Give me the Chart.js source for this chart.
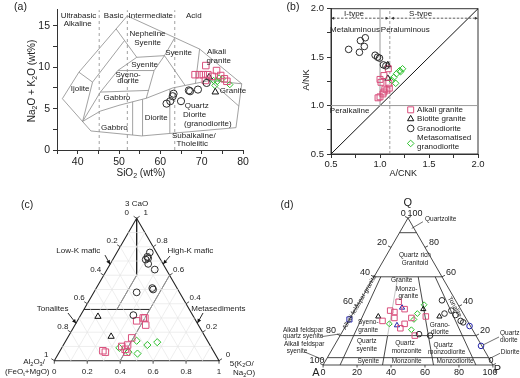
<!DOCTYPE html>
<html>
<head>
<meta charset="utf-8">
<script src="https://cdn.jsdelivr.net/npm/chart.js@4.4.1/dist/chart.umd.min.js"></script>
<style>
  html, body { margin: 0; padding: 0; background: #fff; }
  #wrap { position: relative; width: 520px; height: 378px; overflow: hidden; }
  canvas { position: absolute; }
</style>
</head>
<body>
<div id="wrap">
  <canvas id="chart-tas" width="260" height="190" style="left:0;top:0"></canvas>
  <canvas id="chart-acnk" width="260" height="190" style="left:260px;top:0"></canvas>
  <canvas id="chart-laurent" width="260" height="188" style="left:0;top:190px"></canvas>
  <canvas id="chart-qap" width="260" height="188" style="left:260px;top:190px"></canvas>
</div>
<script>
const FONT = '"Liberation Sans", Arial, sans-serif';
const H = Math.sqrt(3) / 2;

// ---------- (a) TAS: SiO2 vs Na2O+K2O ----------
const tasGranodiorite = [[61.5,5.6],[62.4,5.9],[63.0,6.5],[63.2,6.8],[65.0,5.9],[66.9,7.2],[67.2,7.1],[69.1,7.3],[71.2,8.1]];
const tasAlkaliGranite = [[68.4,9.1],[69.4,9.1],[70.4,9.1],[71.5,9.1],[71.0,10.2],[72.6,8.9],[70.9,8.4],[73.6,9.6],[74.6,9.0],[75.5,8.6],[76.1,8.3]];
const tasBiotiteGranite = [[71.8,8.8],[73.3,7.0]];
const tasMetaGranodiorite = [[72.9,8.4],[73.2,7.8],[73.8,8.3],[74.2,8.7],[75.0,8.6],[76.8,7.9]];

const tasOutline = [[36.3,6.2],[40.3,9.4],[52,16.2],[69.5,12.2],[79.7,8.0],[78.3,2.7],[55.5,1.7],[43.2,2.3],[36.3,6.2]];
const tasFieldLines = [
  [[40.3,9.4],[43.6,8.2],[41.2,3.45]],
  [[43.6,8.2],[51.28,13.19]],
  [[41.2,3.45],[45.5,7.0],[49.7,9.6],[54.3,11.2]],
  [[49.3,14.63],[54.3,11.2],[61,11.4],[63.5,13.57]],
  [[49.7,9.6],[58.5,9.6]],
  [[61,11.4],[58.5,9.6],[56.6,6.25]],
  [[45.5,7.0],[57.15,7.2]],
  [[61,11.4],[66,7.8]],
  [[69.5,12.2],[68.5,8.05]],
  [[41.2,3.45],[45.5,4.7],[50,5.4],[56.6,6.25],[63,7.5],[72,8.4],[79.7,8.0]],
  [[53.3,1.81],[53.3,5.82]],
  [[55.7,1.71],[55.7,6.13]],
  [[62.3,2.0],[62.3,7.36]],
  [[79.0,5.3],[72,8.4]]
];
const tasSilicaLimits = [45.2, 52, 63.5];
const tasLabels = [
  ['Ultrabasic',40.2,16.2],['Alkaline',40.0,15.2],['Basic',48.7,16.2],['Intermediate',57.7,16.2],['Acid',68.1,16.2],
  ['Ijolite',40.6,7.4],['Nepheline',56.9,14.0],['Syenite',56.9,13.0],['Syenite',56.2,10.3],
  ['Syeno-',52.2,9.1],['diorite',52.2,8.4],['Gabbro',49.5,6.3],['Gabbro',48.9,2.7],
  ['Syenite',64.4,11.8],['Alkali',73.6,11.9],['granite',74.1,10.8],['Granite',74.4,7.1,'left'],
  ['Diorite',59.0,3.9],['Quartz',68.8,5.3],['Diorite',68.3,4.2],['(granodiorite)',71.5,3.2],
  ['Subalkaline/',68.1,1.7],['Tholeiitic',67.7,0.8]
];

// ---------- (b) A/CNK vs A/NK ----------
const acnkAlkaliGranite = [[1.085,1.38],[1.04,1.31],[1.0,1.27],[1.01,1.24],[1.09,1.23],[1.05,1.17],[1.07,1.16],[1.095,1.18],[1.04,1.14],[1.0,1.09],[0.98,1.08],[1.03,1.12]];
const acnkBiotiteGranite = [[1.08,1.42],[1.08,1.28]];
const acnkGranodiorite = [[0.68,1.58],[0.79,1.55],[0.80,1.67],[0.84,1.61],[0.85,1.70],[0.95,1.52],[0.975,1.50],[0.995,1.49],[1.035,1.42],[1.06,1.41]];
const acnkMetaGranodiorite = [[1.12,1.26],[1.14,1.29],[1.16,1.23],[1.17,1.33],[1.2,1.36],[1.23,1.38],[1.21,1.35]];
const acnkLabels = [['I-type',0.735,1.952],['S-type',1.415,1.952],['Metaluminous',0.745,1.78],['Peraluminous',1.258,1.78],['Peralkaline',0.69,0.946]];
const legendNames = ['Alkali granite', 'Biotite granite', 'Granodiorite', 'Metasomatised|granodiorite'];

// ---------- (c) Al2O3/(FeOt+MgO) - 3CaO - 5(K2O/Na2O), [al, k, ca] ----------
const terGranodiorite = [[0.04,0.20,0.76],[0.07,0.20,0.73],[0.09,0.20,0.71],[0.07,0.21,0.72],[0.09,0.23,0.68],[0.07,0.29,0.64],[0.15,0.34,0.51],[0.15,0.35,0.50],[0.26,0.26,0.48],[0.36,0.32,0.32]];
const terBiotiteGranite = [[0.58,0.11,0.31],[0.57,0.26,0.17]];
const terAlkaliGranite = [[0.31,0.39,0.30],[0.36,0.36,0.28],[0.32,0.43,0.25],[0.30,0.40,0.30],[0.46,0.39,0.16],[0.50,0.39,0.11],[0.53,0.39,0.08],[0.53,0.41,0.06],[0.54,0.36,0.10],[0.67,0.26,0.07],[0.66,0.28,0.06]];
const terMetaGranodiorite = [[0.43,0.43,0.14],[0.38,0.51,0.11],[0.31,0.56,0.13],[0.47,0.48,0.05],[0.56,0.35,0.09],[0.52,0.42,0.06]];
const terOutline = [[1,0,0],[0,1,0],[0,0,1],[1,0,0]];
const terFieldLines = [
  [[0,0,1],[0.2,0.2,0.6],[0.44,0.2,0.36]],
  [[0.64,0,0.36],[0.24,0.4,0.36]],
  [[0.6,0.4,0],[0,0.4,0.6]]
];
const terTicks = [0, 0.2, 0.4, 0.6, 0.8, 1];
const terLabels = [['3 CaO',0.5,0.956],['Low-K mafic',0.146,0.666],['High-K mafic',0.826,0.666],['Tonalites',-0.01,0.318],['Metasediments',0.996,0.318],
  ['Al_2O_3/',-0.123,-0.006],['(FeO_t+MgO)',-0.164,-0.067],['5(K_2O/',1.138,-0.016],['Na_2O)',1.152,-0.073]];
const terArrows = [[0.308,0.642,0.338,0.586],[0.702,0.636,0.661,0.588],[0.083,0.29,0.132,0.227],[0.903,0.29,0.869,0.229]];

// ---------- (d) QAP, [Q, A, P] % ----------
const qapAlkaliGranite = [[43,34,23],[37,42,21],[36,40,24],[32,42,26],[30,50,20],[38,33,29],[32,32,36],[28,38,34],[25,42,33],[33,23,44],[20,36,44]];
const qapMetaGranodiorite = [[41,20,39],[35,27,38],[31,31,38],[28,47,25],[24,36,40]];
const qapBiotiteGranite = [[33,51,16],[38,22,40],[33,15,52]];
const qapGranodiorite = [[44,8,48],[37,6,57],[34,5,61],[30,4,66],[35,11,54],[29,3,68],[21,33,46],[20,27,53]];
const qapOtherCircle = [[26.5,0.5,73],[13,0.5,86.5]];
const qapOtherTriangle = [[39,34,27],[27,43,30]];
const qapOtherSquare = [[31,69,0]];
const qapQLevels = [90, 60, 20, 5];
const qapRatios = [10, 35, 65, 90];
const qapTicks = [0, 20, 40, 60, 80, 100];
const qapLabels = [
  ['Quartzolite',0.600,0.860,'left'],['Quartz rich',0.541,0.646],['Granitoid',0.541,0.602],
  ['Granite',0.463,0.500],['Monzo-',0.492,0.446],['granite',0.502,0.406],
  ['Syeno-',0.266,0.251],['granite',0.266,0.206],['Grano-',0.688,0.236],['diorite',0.688,0.196],
  ['Quartz',0.257,0.143],['syenite',0.257,0.092],['Quartz',0.482,0.131],['monzonite',0.492,0.084],
  ['Quartz',0.708,0.118],['monzodiorite',0.728,0.078],
  ['Syenite',0.266,0.021],['Monzonite',0.492,0.021],['Monzodiorite',0.777,0.021],
  ['Alkali feldspar',-0.117,0.206],['quartz syenite',-0.117,0.167],['Alkali feldspar',-0.111,0.122],['syenite',-0.214,0.082,'left'],
  ['Quartz',1.042,0.190,'left'],['diorite',1.042,0.147,'left'],['Diorite',1.046,0.078,'left']
];
const qapLeaders = [[0.588,0.844,0.522,0.805],[-0.008,0.167,0.1,0.183],[-0.112,0.078,0.005,0.029],[1.036,0.165,0.942,0.118],[1.042,0.069,0.973,0.034]];

const PINK = '#d94f7c', GREEN = '#2ec12e', DARK = '#2a2a2a', BLUE = '#2424a8';

Chart.defaults.font.family = FONT;
Chart.defaults.color = '#222';
Chart.defaults.animation = false;
Chart.defaults.events = [];
Chart.defaults.plugins.legend.display = false;
Chart.defaults.plugins.tooltip.enabled = false;

// text with _x / _{xx} subscripts
function rich(ctx, str, x, y, size, align = 'center', color = '#222', rot = 0) {
  const parts = [];
  const re = /_\{([^}]*)\}|_(.)/g;
  let last = 0, m;
  while ((m = re.exec(str))) {
    if (m.index > last) parts.push({ t: str.slice(last, m.index), sub: false });
    parts.push({ t: m[1] !== undefined ? m[1] : m[2], sub: true });
    last = re.lastIndex;
  }
  if (last < str.length) parts.push({ t: str.slice(last), sub: false });
  const big = size + 'px ' + FONT, small = (size * 0.7).toFixed(1) + 'px ' + FONT;
  ctx.save();
  ctx.translate(x, y);
  if (rot) ctx.rotate(rot);
  ctx.fillStyle = color;
  ctx.textBaseline = 'middle';
  ctx.textAlign = 'left';
  let w = 0;
  parts.forEach(p => { ctx.font = p.sub ? small : big; p.w = ctx.measureText(p.t).width; w += p.w; });
  let cx = align === 'left' ? 0 : align === 'right' ? -w : -w / 2;
  parts.forEach(p => {
    ctx.font = p.sub ? small : big;
    ctx.fillText(p.t, cx, p.sub ? size * 0.3 : 0);
    cx += p.w;
  });
  ctx.restore();
}

function seg(ctx, x1, y1, x2, y2, color = '#222', width = 0.8) {
  ctx.save();
  ctx.strokeStyle = color; ctx.lineWidth = width;
  ctx.beginPath(); ctx.moveTo(x1, y1); ctx.lineTo(x2, y2); ctx.stroke();
  ctx.restore();
}

function arrowHead(ctx, x1, y1, x2, y2, len = 4.5, color = '#111') {
  const a = Math.atan2(y2 - y1, x2 - x1);
  ctx.save();
  ctx.fillStyle = color;
  ctx.beginPath();
  ctx.moveTo(x2, y2);
  ctx.lineTo(x2 - len * Math.cos(a - 0.45), y2 - len * Math.sin(a - 0.45));
  ctx.lineTo(x2 - len * Math.cos(a + 0.45), y2 - len * Math.sin(a + 0.45));
  ctx.closePath(); ctx.fill();
  ctx.restore();
}

function lineSet(list, color, width, dash) {
  return list.map(pts => ({
    data: pts.map(p => ({ x: p[0], y: p[1] })),
    showLine: true, pointRadius: 0, pointHoverRadius: 0,
    borderColor: color, borderWidth: width, borderDash: dash || [],
    fill: false, tension: 0, clip: false, order: 5
  }));
}

function markSet(pts, style, color, radius) {
  return {
    data: pts.map(p => ({ x: p[0], y: p[1] })),
    showLine: false, pointStyle: style, pointRadius: radius, pointHoverRadius: radius,
    pointBorderColor: color, pointBackgroundColor: 'rgba(0,0,0,0)', pointBorderWidth: 1,
    clip: false, order: 1
  };
}

const axisStyle = (extra) => Object.assign({
  type: 'linear',
  grid: { drawOnChartArea: false, tickLength: 4, color: '#333', lineWidth: 1 },
  border: { color: '#333', width: 1 }
}, extra);

// ---------- chart (a) ----------
const tasDeco = {
  id: 'tasDeco',
  afterDatasetsDraw(chart) {
    const { ctx, scales: { x, y } } = chart;
    tasLabels.forEach(([t, vx, vy, al]) => rich(ctx, t, x.getPixelForValue(vx), y.getPixelForValue(vy), 8, al || 'center'));
    rich(ctx, 'SiO_2 (wt%)', x.getPixelForValue(55.3), 173.5, 10);
    rich(ctx, 'Na_2O + K_2O (wt%)', 32, 81, 10, 'center', '#222', -Math.PI / 2);
    rich(ctx, '(a)', 20.5, 7, 10.5);
  }
};

new Chart(document.getElementById('chart-tas'), {
  type: 'scatter',
  data: {
    datasets: [
      ...lineSet([tasOutline, ...tasFieldLines], '#8a8a8a', 0.8),
      ...lineSet(tasSilicaLimits.map(v => [[v, 0], [v, 16.9]]), '#8a8a8a', 0.8, [3, 3]),
      markSet(tasGranodiorite, 'circle', DARK, 3.6),
      markSet(tasAlkaliGranite, 'rect', PINK, 4.6),
      markSet(tasBiotiteGranite, 'triangle', '#111', 3.8),
      markSet(tasMetaGranodiorite, 'rectRot', GREEN, 3.2)
    ]
  },
  options: {
    responsive: false,
    layout: { padding: { left: 0, top: 8, right: 17, bottom: 0 } },
    scales: {
      x: axisStyle({ min: 35, max: 80, afterFit: s => { s.height = 40; },
        ticks: { stepSize: 5, includeBounds: false, autoSkip: false, maxRotation: 0, padding: 2, font: { size: 10.5 },
          callback: v => (v % 10 === 0 ? v : '') } }),
      y: axisStyle({ min: 0, max: 17, afterFit: s => { s.width = 57; },
        ticks: { stepSize: 2.5, includeBounds: false, autoSkip: false, padding: 3, font: { size: 10.5 },
          callback: v => (v % 5 === 0 ? v : '') } })
    }
  },
  plugins: [tasDeco]
});

// ---------- chart (b) ----------
const halfStep = v => (Math.abs(v * 2 - Math.round(v * 2)) < 1e-9 ? v.toFixed(1) : '');
const acnkDeco = {
  id: 'acnkDeco',
  beforeDatasetsDraw(chart) {
    const { ctx, chartArea: a } = chart;
    ctx.save(); ctx.strokeStyle = '#333'; ctx.lineWidth = 1;
    ctx.strokeRect(a.left, a.top, a.right - a.left, a.bottom - a.top);
    ctx.restore();
  },
  afterDatasetsDraw(chart) {
    const { ctx, scales: { x, y } } = chart;
    const px = v => x.getPixelForValue(v), py = v => y.getPixelForValue(v);
    // I-type / S-type arrows
    const ya = py(1.902);
    ctx.save(); ctx.strokeStyle = '#333'; ctx.lineWidth = 0.8; ctx.setLineDash([2.5, 1.5]);
    ctx.beginPath(); ctx.moveTo(px(0.5) + 2, ya); ctx.lineTo(px(1.09) - 2, ya);
    ctx.moveTo(px(1.11) + 2, ya); ctx.lineTo(px(2.0) - 2, ya); ctx.stroke();
    ctx.restore();
    arrowHead(ctx, px(0.6), ya, px(0.5), ya, 3.5, '#333');
    arrowHead(ctx, px(1.0), ya, px(1.09), ya, 3.5, '#333');
    arrowHead(ctx, px(1.2), ya, px(1.11), ya, 3.5, '#333');
    arrowHead(ctx, px(1.9), ya, px(2.0), ya, 3.5, '#333');
    acnkLabels.forEach(([t, vx, vy]) => rich(ctx, t, px(vx), py(vy), 8));
    // legend
    const styles = [['rect', PINK, 4.2], ['triangle', '#111', 3.6], ['circle', DARK, 3.3], ['rectRot', GREEN, 3.3]];
    const rows = [0.956, 0.862, 0.764, 0.609];
    legendNames.forEach((name, i) => {
      const [st, col, r] = styles[i];
      ctx.save();
      ctx.strokeStyle = col; ctx.fillStyle = 'rgba(0,0,0,0)'; ctx.lineWidth = 1;
      Chart.helpers.drawPoint(ctx, { pointStyle: st, radius: r, rotation: 0, borderWidth: 1 }, px(1.313), py(rows[i]));
      ctx.restore();
      const lines = name.split('|');
      if (lines.length === 1) rich(ctx, name, px(1.378), py(rows[i]), 8, 'left');
      else { rich(ctx, lines[0], px(1.378), py(0.663), 8, 'left'); rich(ctx, lines[1], px(1.378), py(0.574), 8, 'left'); }
    });
    rich(ctx, 'A/CNK', 143.3, 173.5, 9);
    rich(ctx, 'A/NK', 46.7, 80, 9, 'center', '#222', -Math.PI / 2);
    rich(ctx, '(b)', 33, 7, 10.5);
  }
};

new Chart(document.getElementById('chart-acnk'), {
  type: 'scatter',
  data: {
    datasets: [
      ...lineSet([[[1, 1], [1, 2]], [[0.5, 1], [2, 1]]], '#9a9a9a', 1),
      ...lineSet([[[1.1, 0.5], [1.1, 2]]], '#888', 0.8, [3, 2]),
      ...lineSet([[[0.5, 0.5], [2, 2]]], '#111', 1),
      markSet(acnkGranodiorite, 'circle', DARK, 3.3),
      markSet(acnkAlkaliGranite, 'rect', PINK, 4.2),
      markSet(acnkBiotiteGranite, 'triangle', '#111', 3.6),
      markSet(acnkMetaGranodiorite, 'rectRot', GREEN, 3.3)
    ]
  },
  options: {
    responsive: false,
    layout: { padding: { left: 0, top: 6, right: 42, bottom: 0 } },
    scales: {
      x: axisStyle({ min: 0.5, max: 2, afterFit: s => { s.height = 36; },
        ticks: { stepSize: 0.25, includeBounds: false, autoSkip: false, maxRotation: 0, padding: 1, font: { size: 9.5 }, callback: halfStep } }),
      y: axisStyle({ min: 0.5, max: 2, afterFit: s => { s.width = 71; },
        ticks: { stepSize: 0.25, includeBounds: false, autoSkip: false, padding: 3, font: { size: 9.5 }, callback: halfStep } })
    }
  },
  plugins: [acnkDeco]
});

// ---------- chart (c) ----------
const cxy = ([al, k, ca]) => [k + ca / 2, ca * H];
const terGrid = [];
for (let i = 1; i < 10; i++) {
  const t = i / 10;
  terGrid.push([[1 - t, 0, t], [0, 1 - t, t]]);
  terGrid.push([[1 - t, t, 0], [0, t, 1 - t]]);
  terGrid.push([[t, 1 - t, 0], [t, 0, 1 - t]]);
}
const fmtT = t => (t === 0 ? '0' : t === 1 ? '1' : t.toFixed(1));
const laurentDeco = {
  id: 'laurentDeco',
  afterDatasetsDraw(chart) {
    const { ctx, scales: { x, y } } = chart;
    const P = p => [x.getPixelForValue(p[0]), y.getPixelForValue(p[1])];
    terTicks.forEach(t => {
      let [bx, by] = P(cxy([1 - t, t, 0]));
      seg(ctx, bx, by, bx, by + 3, '#222', 0.8);
      rich(ctx, fmtT(t), bx, by + 11, 8);
      let [lx, ly] = P(cxy([t, 0, 1 - t]));
      seg(ctx, lx, ly, lx - 3, ly - 2, '#222', 0.8);
      rich(ctx, fmtT(t), lx - (t === 0 ? 10 : 8), ly - 5.6, 8);
      let [rx, ry] = P(cxy([0, 1 - t, t]));
      seg(ctx, rx, ry, rx + 3, ry - 2, '#222', 0.8);
      rich(ctx, fmtT(t), rx + 9, ry - 5.6, 8);
    });
    terArrows.forEach(([x1, y1, x2, y2]) => {
      const a = P([x1, y1]), b = P([x2, y2]);
      seg(ctx, a[0], a[1], b[0], b[1], '#111', 0.9);
      arrowHead(ctx, a[0], a[1], b[0], b[1], 4.5, '#111');
    });
    terLabels.forEach(([t, vx, vy]) => { const p = P([vx, vy]); rich(ctx, t, p[0], p[1], 8); });
    rich(ctx, '(c)', 27, 15, 10.5);
  }
};

new Chart(document.getElementById('chart-laurent'), {
  type: 'scatter',
  data: {
    datasets: [
      ...lineSet(terGrid.map(l => l.map(cxy)), '#e2e2e2', 0.6),
      ...lineSet([terOutline.map(cxy)], '#222', 1.1),
      ...lineSet(terFieldLines.map(l => l.map(cxy)), '#222', 1),
      markSet(terGranodiorite.map(cxy), 'circle', DARK, 3.4),
      markSet(terAlkaliGranite.map(cxy), 'rect', PINK, 4.6),
      markSet(terBiotiteGranite.map(cxy), 'triangle', '#111', 3.6),
      markSet(terMetaGranodiorite.map(cxy), 'rectRot', GREEN, 3.6)
    ]
  },
  options: {
    responsive: false,
    layout: { padding: { left: 54.3, top: 28.3, right: 41, bottom: 17.3 } },
    scales: { x: { type: 'linear', min: 0, max: 1, display: false }, y: { type: 'linear', min: 0, max: H, display: false } }
  },
  plugins: [laurentDeco]
});

// ---------- chart (d) ----------
const dxy = ([q, a, p]) => { const s = q + a + p; return [(p + q / 2) / s, (q / s) * H]; };
const qapDark = [], qapLight = [];
qapDark.push([[0, 100, 0], [0, 0, 100], [100, 0, 0], [0, 100, 0]]);
qapQLevels.forEach(q => qapDark.push([[q, 100 - q, 0], [q, 0, 100 - q]]));
qapRatios.forEach(r => {
  const top = [60, 40 * (1 - r / 100), 40 * r / 100], mid = [20, 80 * (1 - r / 100), 80 * r / 100], base = [0, 100 - r, r];
  if (r === 35) { qapLight.push([top, mid]); qapDark.push([mid, base]); }
  else qapDark.push([top, base]);
});
const qapDeco = {
  id: 'qapDeco',
  afterDatasetsDraw(chart) {
    const { ctx, scales: { x, y } } = chart;
    const P = p => [x.getPixelForValue(p[0]), y.getPixelForValue(p[1])];
    qapTicks.forEach(v => {
      const [bx, by] = P(dxy([0, 100 - v, v]));
      seg(ctx, bx, by, bx, by + 2.5, '#222', 0.8);
      rich(ctx, String(v), bx - (v === 100 ? 3 : 0), by + 8, 9);
      const [lx, ly] = P(dxy([100 - v, v, 0]));
      seg(ctx, lx, ly, lx - 3, ly - 1.5, '#222', 0.8);
      rich(ctx, String(v), lx - (v === 0 ? 4.7 : v === 100 ? 6 : 9), ly - 4.6, 9);
      const [rx, ry] = P(dxy([v, 0, 100 - v]));
      seg(ctx, rx, ry, rx + 3, ry - 1.5, '#222', 0.8);
      if (v === 100) rich(ctx, '100', rx + 7, ry - 4.6, 9);
      else rich(ctx, String(v), rx + (v === 0 ? -2 : 9), ry - 4.6, 9);
    });
    qapLeaders.forEach(([x1, y1, x2, y2]) => { const a = P([x1, y1]), b = P([x2, y2]); seg(ctx, a[0], a[1], b[0], b[1], '#333', 0.7); });
    qapLabels.forEach(([t, vx, vy, al]) => { const p = P([vx, vy]); rich(ctx, t, p[0], p[1], 6.5, al || 'center'); });
    let p = P([0.215, 0.37]);
    rich(ctx, 'Alkali feldspar granite', p[0], p[1], 6.5, 'center', '#222', -Math.PI / 3);
    p = P([0.775, 0.342]);
    rich(ctx, 'Tonalite', p[0], p[1], 6.5, 'center', '#222', Math.PI / 3);
    p = P([0.498, 0.956]); rich(ctx, 'Q', p[0], p[1], 11);
    p = P([-0.042, -0.045]); rich(ctx, 'A', p[0], p[1], 11);
    p = P([1.026, -0.029]); rich(ctx, 'P', p[0], p[1], 11);
    rich(ctx, '(d)', 27, 15, 10.5);
  }
};

new Chart(document.getElementById('chart-qap'), {
  type: 'scatter',
  data: {
    datasets: [
      ...lineSet(qapLight.map(l => l.map(dxy)), '#aaa', 0.7),
      ...lineSet(qapDark.map(l => l.map(dxy)), '#333', 0.9),
      markSet(qapGranodiorite.map(dxy), 'circle', DARK, 2.8),
      markSet(qapAlkaliGranite.map(dxy), 'rect', PINK, 3.9),
      markSet(qapBiotiteGranite.map(dxy), 'triangle', '#111', 3.0),
      markSet(qapMetaGranodiorite.map(dxy), 'rectRot', GREEN, 2.9),
      markSet(qapOtherCircle.map(dxy), 'circle', BLUE, 2.8),
      markSet(qapOtherTriangle.map(dxy), 'triangle', BLUE, 3.0),
      markSet(qapOtherSquare.map(dxy), 'rect', BLUE, 3.6)
    ]
  },
  options: {
    responsive: false,
    layout: { padding: { left: 63.1, top: 28, right: 27.1, bottom: 13 } },
    scales: { x: { type: 'linear', min: 0, max: 1, display: false }, y: { type: 'linear', min: 0, max: H, display: false } }
  },
  plugins: [qapDeco]
});
</script>
</body>
</html>
